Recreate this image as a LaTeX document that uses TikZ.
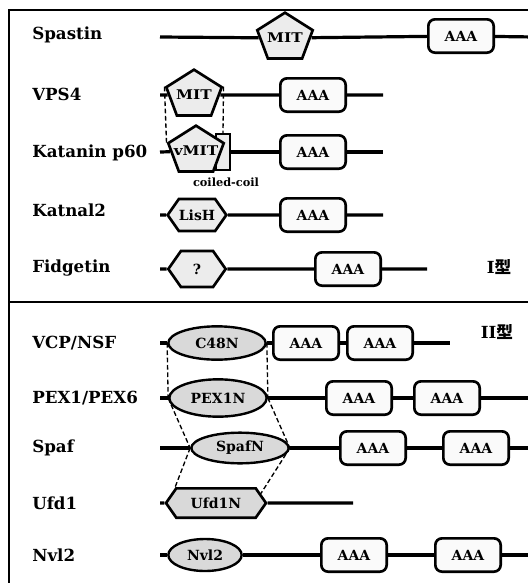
\documentclass[tikz,border=0pt]{standalone}
\usepackage{fontspec}
\setmainfont{DejaVu Serif}
\newfontfamily\jpfont{Noto Sans CJK JP}
\usetikzlibrary{shapes.geometric,shapes.symbols}

\begin{document}
\begin{tikzpicture}[
    x=0.75pt, y=-0.75pt,
    frame line/.style={line width=1pt},
    backbone/.style={line width=2.4pt},
    fold link/.style={line width=1pt, dash pattern=on 3.5pt off 2pt},
    prot label/.style={
        anchor=west,
        inner sep=0pt,
        font=\fontsize{12.5}{14}\selectfont\bfseries
    },
    type label/.style={
        inner sep=0pt,
        font=\fontsize{12.5}{14}\selectfont\bfseries
    },
    aaa box/.style={
        rectangle,
        rounded corners=5pt,
        draw=black,
        line width=2pt,
        fill=gray!4,
        minimum width=49pt,
        minimum height=25pt,
        inner sep=0pt,
        font=\fontsize{10.5}{12}\selectfont\bfseries
    },
    mit domain/.style={
        regular polygon,
        regular polygon sides=5,
        draw=black,
        line width=2pt,
        fill=gray!15,
        minimum size=38pt,
        inner sep=-4pt,
        xscale=1.15,
        transform shape,
        font=\fontsize{10}{12}\selectfont\bfseries
    },
    hex domain/.style={
        signal,
        signal to=west and east,
        signal pointer angle=110,
        draw=black,
        line width=2pt,
        fill=#1,
        minimum width=43pt,
        inner sep=0pt,
        font=\fontsize{10.5}{12}\selectfont\bfseries
    },
    hex domain/.default=gray!15,
    n domain/.style={
        ellipse,
        draw=black,
        line width=1.8pt,
        fill=gray!30,
        minimum width=73pt,
        inner sep=0pt,
        font=\fontsize{10.5}{12}\selectfont\bfseries
    },
    coil box/.style={
        rectangle,
        draw=black,
        line width=0.8pt,
        fill=gray!15,
        minimum width=10.5pt,
        minimum height=27pt,
        inner sep=0pt
    }
]
\useasboundingbox (0,0) rectangle (528,583);

% Frame
\coordinate (frame-bl) at (9,590);
\coordinate (frame-tl) at (9,10);
\coordinate (frame-tr) at (535,10);
\coordinate (sep-l) at (9,302);
\coordinate (sep-r) at (535,302);
\draw[frame line] (frame-bl) -- (frame-tl) -- (frame-tr);
\draw[frame line] (sep-l) -- (sep-r);

% Protein names
\node[prot label] (spastin) at (32,35) {Spastin};
\node[prot label] (vps4)    at (32,94) {VPS4};
\node[prot label] (katanin) at (32,153) {Katanin p60};
\node[prot label] (katnal)  at (32,210) {Katnal2};
\node[prot label] (fidget)  at (32,268) {Fidgetin};
\node[prot label] (vcp)     at (32,343) {VCP/NSF};
\node[prot label] (pex)     at (32,398) {PEX1/PEX6};
\node[prot label] (spaf)    at (32,448) {Spaf};
\node[prot label] (ufd)     at (32,503) {Ufd1};
\node[prot label] (nvl)     at (32,555) {Nvl2};

% Type I
\coordinate (sp-start) at (160,37);
\coordinate (sp-end) at (535,37);
\node[mit domain] (sp-mit) at (285,38) {MIT};
\node[aaa box] (sp-aaa) at (461,36) {AAA};
\draw[backbone] (sp-start) -- (sp-mit) -- (sp-aaa) -- (sp-end);

\coordinate (vp-start) at (160,95);
\coordinate (vp-end) at (383,95);
\node[mit domain] (vp-mit) at (194,95) {MIT};
\node[aaa box] (vp-aaa) at (313,95) {AAA};
\draw[backbone] (vp-start) -- (vp-mit) -- (vp-aaa) -- (vp-end);

\coordinate (kt-start) at (160,152);
\coordinate (kt-end) at (383,152);
\node[coil box] (kt-coil) at (223,152) {};
\node[mit domain] (kt-mit) at (196,151) {vMIT};
\node[aaa box] (kt-aaa) at (313,152) {AAA};
\draw[backbone] (kt-start) -- (kt-mit);
\draw[backbone] (kt-coil) -- (kt-aaa) -- (kt-end);
\node[font=\fontsize{8.5}{10}\selectfont\bfseries] (kt-coil-lbl) at (226,182) {coiled-coil};

\coordinate (kn-start) at (160,215);
\coordinate (kn-end) at (383,215);
\node[hex domain, minimum height=24pt] (kn-lish) at (197,215) {LisH};
\node[aaa box] (kn-aaa) at (313,215) {AAA};
\draw[backbone] (kn-start) -- (kn-lish) -- (kn-aaa) -- (kn-end);

\coordinate (fd-start) at (160,269);
\coordinate (fd-end) at (427,269);
\node[hex domain, minimum height=27pt] (fd-unk) at (197,269) {?};
\node[aaa box] (fd-aaa) at (348,269) {AAA};
\draw[backbone] (fd-start) -- (fd-unk) -- (fd-aaa) -- (fd-end);

\draw[fold link] (vp-mit.corner 2) -- (kt-mit.corner 2);
\draw[fold link] (vp-mit.corner 5) -- (kt-coil.north);

\node[type label] (type-one) at (499,267) {I\jpfont 型};

% Type II
\coordinate (vc-start) at (160,343);
\coordinate (vc-end) at (450,343);
\node[n domain, minimum height=25pt] (vc-n) at (217,343) {C48N};
\node[aaa box] (vc-aaa1) at (306,343) {AAA};
\node[aaa box] (vc-aaa2) at (380,343) {AAA};
\draw[backbone] (vc-start) -- (vc-n) -- (vc-aaa1) -- (vc-aaa2) -- (vc-end);

\coordinate (px-start) at (160,398);
\coordinate (px-end) at (535,398);
\node[n domain, minimum height=28pt] (px-n) at (218,398) {PEX1N};
\node[aaa box] (px-aaa1) at (359,398) {AAA};
\node[aaa box] (px-aaa2) at (447,398) {AAA};
\draw[backbone] (px-start) -- (px-n) -- (px-aaa1) -- (px-aaa2) -- (px-end);

\coordinate (sf-start) at (160,448);
\coordinate (sf-end) at (535,448);
\node[n domain, minimum height=23pt] (sf-n) at (240,448) {SpafN};
\node[aaa box] (sf-aaa1) at (373,448) {AAA};
\node[aaa box] (sf-aaa2) at (476,448) {AAA};
\draw[backbone] (sf-start) -- (sf-n) -- (sf-aaa1) -- (sf-aaa2) -- (sf-end);

\coordinate (uf-start) at (160,503);
\coordinate (uf-end) at (353,503);
\node[hex domain=gray!30, minimum width=75pt, minimum height=22pt] (uf-n) at (216,503) {Ufd1N};
\draw[backbone] (uf-start) -- (uf-n) -- (uf-end);

\coordinate (nv-start) at (160,555);
\coordinate (nv-end) at (535,555);
\node[n domain, minimum width=55pt, minimum height=24pt] (nv-n) at (205,555) {Nvl2};
\node[aaa box] (nv-aaa1) at (354,555) {AAA};
\node[aaa box] (nv-aaa2) at (468,555) {AAA};
\draw[backbone] (nv-start) -- (nv-n) -- (nv-aaa1) -- (nv-aaa2) -- (nv-end);

\draw[fold link] (vc-n.west) -- (px-n.west);
\draw[fold link] (vc-n.east) -- (px-n.east);
\draw[fold link] (px-n.west) -- (sf-n.west);
\draw[fold link] (px-n.east) -- (sf-n.east);
\draw[fold link] (sf-n.west) -- (uf-n.north west);
\draw[fold link] (sf-n.east) -- (uf-n.12);

\node[type label] (type-two) at (497,332) {II\jpfont 型};

\end{tikzpicture}
\end{document}
